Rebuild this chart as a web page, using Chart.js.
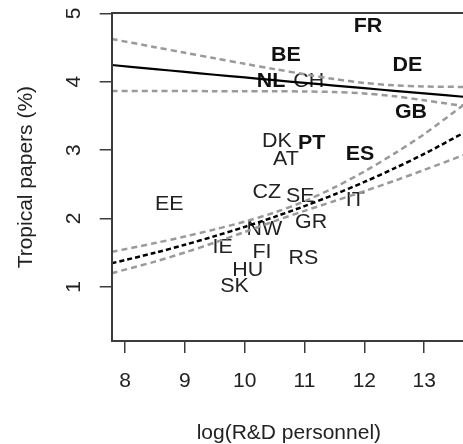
<!DOCTYPE html>
<html>
<head>
<meta charset="utf-8">
<script src="https://cdn.jsdelivr.net/npm/chart.js@4.4.1/dist/chart.umd.min.js"></script>
<style>
  html, body { margin: 0; padding: 0; background: #fff; overflow: hidden; }
  #wrap { width: 467px; height: 444px; }
</style>
</head>
<body>
<div id="wrap"><canvas id="c" width="467" height="444"></canvas></div>
<script>
// ---- data ----
const countries   = ["FR","BE","DE","NL","CH","GB","DK","PT","AT","ES","CZ","SE","IT","EE","GR","NW","IE","FI","RS","HU","SK"];
const logRD       = [12.06,10.69,12.72,10.44,11.07,12.78,10.54,11.12,10.69,11.93,10.37,10.93,11.85,8.74,11.11,10.33,9.63,10.29,10.98,10.05,9.83];
const tropicalPct = [4.81,4.38,4.24,4.00,4.00,3.55,3.13,3.09,2.87,2.93,2.38,2.32,2.27,2.20,1.94,1.84,1.58,1.51,1.42,1.24,1.00];
const boldLabel   = [true,true,true,true,false,true,false,true,false,true,false,false,false,false,false,false,false,false,false,false,false];

// fitted curves sampled along x
const curveX      = [7.777,8.5,9,9.5,10,10.5,11,11.5,12,12.5,13,13.7];
const fitHigh     = [4.244,4.184,4.143,4.102,4.062,4.022,3.983,3.944,3.905,3.867,3.829,3.776];
const fitHighUp   = [4.624,4.505,4.423,4.342,4.262,4.184,4.109,4.039,3.982,3.946,3.930,3.923];
const fitHighLow  = [3.864,3.863,3.863,3.862,3.862,3.860,3.857,3.849,3.828,3.788,3.728,3.640];
const fitLow      = [1.345,1.499,1.616,1.742,1.877,2.024,2.181,2.351,2.534,2.732,2.944,3.270];
const fitLowUp    = [1.512,1.641,1.737,1.841,1.954,2.088,2.252,2.454,2.687,2.948,3.234,3.687];
const fitLowLow   = [1.200,1.370,1.503,1.648,1.803,1.962,2.112,2.255,2.400,2.550,2.710,2.940];

const xTickValues = [8,9,10,11,12,13];
const yTickValues = [1,2,3,4,5];
const xTitle = "log(R&D personnel)";
const yTitle = "Tropical papers (%)";

// ---- helpers ----
const FAMILY = '"Liberation Sans", Arial, Helvetica, sans-serif';
const pts = (xs, ys) => xs.map((x, i) => ({ x: x, y: ys[i] }));
const lineDs = (ys, color, width, dash) => ({
  data: pts(curveX, ys), showLine: true, pointRadius: 0, borderColor: color,
  borderWidth: width, borderDash: dash, fill: false, tension: 0.3
});

const labelPlugin = {
  id: 'countryLabels',
  beforeDatasetsDraw(chart) {
    const meta = chart.getDatasetMeta(0);
    const ctx = chart.ctx;
    meta.data.forEach((el, i) => {
      ctx.save();
      ctx.translate(el.x, el.y);
      ctx.scale(1.07, 1);
      ctx.textAlign = 'center';
      ctx.textBaseline = 'middle';
      ctx.font = (boldLabel[i] ? 'bold ' : '') + '20px ' + FAMILY;
      ctx.fillStyle = boldLabel[i] ? '#111' : '#222';
      ctx.fillText(countries[i], 0, 0);
      ctx.restore();
    });
  }
};

const framePlugin = {
  id: 'frame',
  afterDatasetsDraw(chart) {
    const a = chart.chartArea, ctx = chart.ctx;
    const l = Math.round(a.left), t = Math.round(a.top);
    const r = Math.round(a.right), b = Math.round(a.bottom);
    ctx.save();
    ctx.strokeStyle = '#3c3c3c';
    ctx.lineWidth = 2;
    ctx.beginPath();
    ctx.moveTo(l, b); ctx.lineTo(l, t); ctx.lineTo(r, t); ctx.lineTo(r, b); ctx.closePath();
    ctx.stroke();
    ctx.restore();
  }
};

new Chart(document.getElementById('c'), {
  type: 'scatter',
  data: {
    datasets: [
      { data: pts(logRD, tropicalPct), pointRadius: 0, showLine: false },
      lineDs(fitHighUp, '#9a9a9a', 2.5, [6, 4]),
      lineDs(fitHighLow, '#9a9a9a', 2.5, [6, 4]),
      lineDs(fitLowUp, '#9a9a9a', 2.5, [6, 4]),
      lineDs(fitLowLow, '#9a9a9a', 2.5, [6, 4]),
      lineDs(fitHigh, '#000', 2.2, []),
      lineDs(fitLow, '#000', 2.5, [5, 3])
    ]
  },
  options: {
    responsive: false,
    animation: false,
    devicePixelRatio: 1,
    layout: { padding: { top: 13.3, right: 1, left: 0, bottom: 0 } },
    plugins: { legend: { display: false }, tooltip: { enabled: false } },
    scales: {
      x: {
        type: 'linear', min: 7.777, max: 13.70,
        afterBuildTicks: s => { s.ticks = xTickValues.map(v => ({ value: v })); },
        afterFit: s => { s.height = 103; s.paddingLeft = 0; s.paddingRight = 0; },
        grid: { drawOnChartArea: false, drawTicks: true, tickLength: 12, color: '#3c3c3c', lineWidth: 1.5 },
        border: { display: false },
        ticks: { font: { family: FAMILY, size: 21 }, color: '#222', padding: 16, maxRotation: 0, autoSkip: false },
        title: { display: true, text: xTitle, font: { family: FAMILY, size: 21 }, color: '#222', padding: { top: 0, bottom: -1.5 } }
      },
      y: {
        type: 'linear', min: 0.209, max: 5.0,
        afterBuildTicks: s => { s.ticks = yTickValues.map(v => ({ value: v })); },
        afterFit: s => { s.width = 111.7; s.paddingTop = 0; s.paddingBottom = 0; },
        grid: { drawOnChartArea: false, drawTicks: true, tickLength: 12, color: '#3c3c3c', lineWidth: 1.5 },
        border: { display: false },
        ticks: { font: { family: FAMILY, size: 21 }, color: '#222', padding: 20, minRotation: 90, maxRotation: 90, crossAlign: 'center', autoSkip: false },
        title: { display: true, text: yTitle, font: { family: FAMILY, size: 21 }, color: '#222', padding: { top: 13.5, bottom: 0 } }
      }
    }
  },
  plugins: [labelPlugin, framePlugin]
});
</script>
</body>
</html>
